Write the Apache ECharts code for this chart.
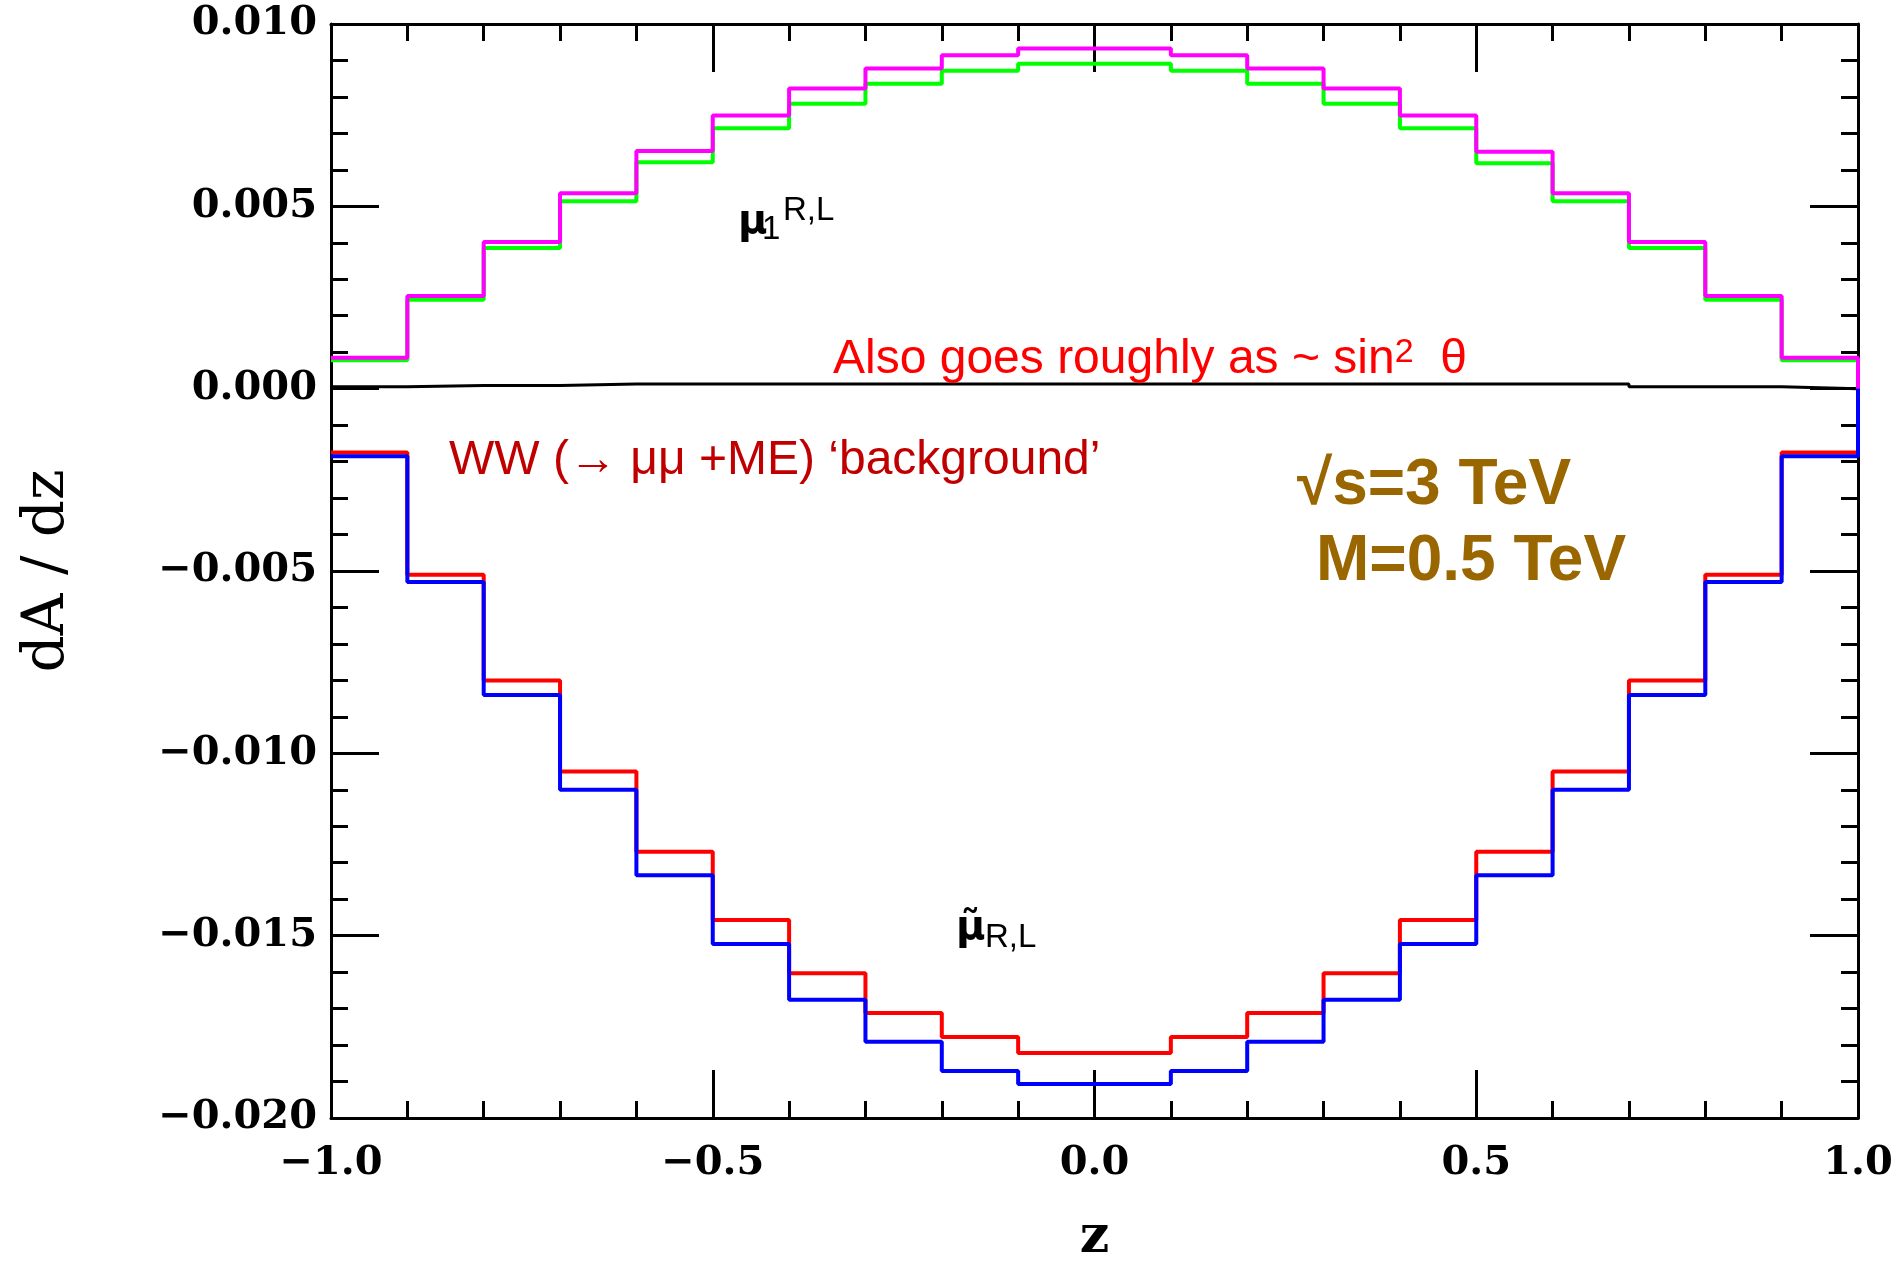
<!DOCTYPE html>
<html>
<head>
<meta charset="utf-8">
<script src="https://cdn.jsdelivr.net/npm/echarts@6/dist/echarts.min.js"></script>
<style>
html,body{margin:0;padding:0;background:#fff;}
#chart{width:1899px;height:1269px;}
</style>
</head>
<body>
<div id="chart"></div>
<script>
// bin edges in z
const binEdges = [-1.0, -0.9, -0.8, -0.7, -0.6, -0.5, -0.4, -0.3, -0.2, -0.1, 0.0, 0.1, 0.2, 0.3, 0.4, 0.5, 0.6, 0.7, 0.8, 0.9, 1.0];
// histogram contents per bin
const magentaVals = [0.00085, 0.00254, 0.00402, 0.00536, 0.00652, 0.00749, 0.00823, 0.00878, 0.00914, 0.00933, 0.00933, 0.00914, 0.00878, 0.00823, 0.00749, 0.00650, 0.00536, 0.00402, 0.00254, 0.00085];
const greenVals   = [0.00078, 0.00244, 0.00386, 0.00514, 0.00621, 0.00714, 0.00781, 0.00836, 0.00872, 0.00891, 0.00891, 0.00872, 0.00836, 0.00781, 0.00714, 0.00618, 0.00514, 0.00386, 0.00244, 0.00078];
const redVals     = [-0.00175, -0.00510, -0.00800, -0.01050, -0.01270, -0.01457, -0.01603, -0.01712, -0.01778, -0.01822, -0.01822, -0.01778, -0.01712, -0.01603, -0.01457, -0.01270, -0.01050, -0.00800, -0.00510, -0.00175];
const blueVals    = [-0.00185, -0.00530, -0.00840, -0.01100, -0.01334, -0.01523, -0.01676, -0.01791, -0.01871, -0.01907, -0.01907, -0.01871, -0.01791, -0.01676, -0.01523, -0.01334, -0.01100, -0.00840, -0.00530, -0.00185];
const blackVals   = [0.00005, 0.00009, 0.00009, 0.00013, 0.00013, 0.00013, 0.00013, 0.00013, 0.00013, 0.00013, 0.00013, 0.00013, 0.00013, 0.00013, 0.00013, 0.00013, 0.00013, 0.00005, 0.00005, 0.0];
// axis ticks
const xTicks = [-1.0, -0.5, 0.0, 0.5, 1.0];
const yTicks = [-0.020, -0.015, -0.010, -0.005, 0.000, 0.005, 0.010];

function histLine(vals) {
  const pts = [];
  for (let i = 0; i < vals.length; i++) {
    pts.push([binEdges[i], vals[i]]);
    pts.push([binEdges[i + 1], vals[i]]);
  }
  pts.push([binEdges[binEdges.length - 1], 0]);
  return pts;
}
function fmt(v, d) {
  if (Math.abs(v) < 1e-12) return (0).toFixed(d);
  return (v < 0 ? '\u2212' : '') + Math.abs(v).toFixed(d);
}

const tickFont = 'DejaVu Serif';
const axisCommon = {
  axisLine: { show: true, onZero: false, lineStyle: { color: '#000', width: 3 } },
  axisTick: { show: true, inside: true, length: 48, lineStyle: { color: '#000', width: 3 } },
  minorTick: { show: true, splitNumber: 5, length: 17, lineStyle: { color: '#000', width: 3 } },
  splitLine: { show: false },
  minorSplitLine: { show: false }
};

function mkSeries(name, vals, color, width) {
  return {
    name: name, type: 'line', data: histLine(vals),
    showSymbol: false, symbol: 'none', clip: false,
    lineStyle: { color: color, width: width }, itemStyle: { color: color },
    animation: false
  };
}

const chart = echarts.init(document.getElementById('chart'), null, { renderer: 'canvas' });
const sansFont = "'Liberation Sans', Arial, sans-serif";
chart.setOption({
  backgroundColor: '#fff',
  animation: false,
  grid: { left: 331, top: 24, width: 1527, height: 1098, containLabel: false },
  xAxis: [
    Object.assign({}, axisCommon, {
      type: 'value', position: 'bottom', min: xTicks[0], max: xTicks[xTicks.length - 1], interval: 0.5,
      name: 'z', nameLocation: 'middle', nameGap: 94,
      nameTextStyle: { fontFamily: tickFont, fontWeight: 'bold', fontSize: 52, color: '#000' },
      axisLabel: { show: true, margin: 26, fontFamily: tickFont, fontWeight: 'bold', fontSize: 40, color: '#000',
        formatter: v => fmt(v, 1) }
    }),
    Object.assign({}, axisCommon, {
      type: 'value', position: 'top', min: xTicks[0], max: xTicks[xTicks.length - 1], interval: 0.5,
      axisLabel: { show: false }
    })
  ],
  yAxis: [
    Object.assign({}, axisCommon, {
      type: 'value', position: 'left', min: yTicks[0], max: yTicks[yTicks.length - 1], interval: 0.005,
      name: 'dA / dz', nameLocation: 'middle', nameGap: 254,
      nameTextStyle: { fontFamily: tickFont, fontSize: 58, color: '#000' },
      axisLabel: { show: true, margin: 14, fontFamily: tickFont, fontWeight: 'bold', fontSize: 40, color: '#000',
        padding: [6, 0, 0, 0], formatter: v => fmt(v, 3) }
    }),
    Object.assign({}, axisCommon, {
      type: 'value', position: 'right', min: yTicks[0], max: yTicks[yTicks.length - 1], interval: 0.005,
      axisLabel: { show: false }
    })
  ],
  series: [
    mkSeries('zero', blackVals, '#000000', 3),
    mkSeries('mu1 green', greenVals, '#00ff00', 4),
    mkSeries('mu1 magenta', magentaVals, '#ff00ff', 4),
    mkSeries('smuon red', redVals, '#ff0000', 4),
    mkSeries('smuon blue', blueVals, '#0000ff', 4)
  ],
  graphic: [
    { type: 'text', left: 833, top: 336, z: 100, style: {
        text: '{a|Also goes roughly as ~ sin}{s|2}{a|  \u03b8}',
        rich: {
          a: { fontFamily: sansFont, fontSize: 48, fill: '#ff0000', color: '#ff0000' },
          s: { fontFamily: sansFont, fontSize: 34, fill: '#ff0000', color: '#ff0000', verticalAlign: 'top' }
        } } },
    { type: 'text', left: 449, top: 437, z: 100, style: {
        text: 'WW (\u2192 \u03bc\u03bc +ME) \u2018background\u2019',
        font: "48px 'Liberation Sans', Arial, sans-serif", fill: '#c00000' } },
    { type: 'text', left: 1297, top: 454, z: 100, style: {
        text: '\u221as=3 TeV', font: "bold 64px 'Liberation Sans', Arial, sans-serif", fill: '#996600' } },
    { type: 'text', left: 1316, top: 530, z: 100, style: {
        text: 'M=0.5 TeV', font: "bold 64px 'Liberation Sans', Arial, sans-serif", fill: '#996600' } },
    // mu_1^{R,L}
    { type: 'text', left: 738, top: 203, z: 100, style: {
        text: '\u03bc', font: "bold 40px 'DejaVu Sans', sans-serif", fill: '#000' } },
    { type: 'text', left: 762, top: 213, z: 100, style: {
        text: '1', font: "33px 'Liberation Sans', Arial, sans-serif", fill: '#000' } },
    { type: 'text', left: 783, top: 194, z: 100, style: {
        text: 'R,L', font: "33px 'Liberation Sans', Arial, sans-serif", fill: '#000' } },
    // smuon tilde mu_{R,L}
    { type: 'text', left: 956, top: 909, z: 100, style: {
        text: '\u03bc\u0303', font: "bold 40px 'DejaVu Sans', sans-serif", fill: '#000' } },
    { type: 'text', left: 985, top: 921, z: 100, style: {
        text: 'R,L', font: "33px 'Liberation Sans', Arial, sans-serif", fill: '#000' } }
  ]
});
</script>
</body>
</html>
